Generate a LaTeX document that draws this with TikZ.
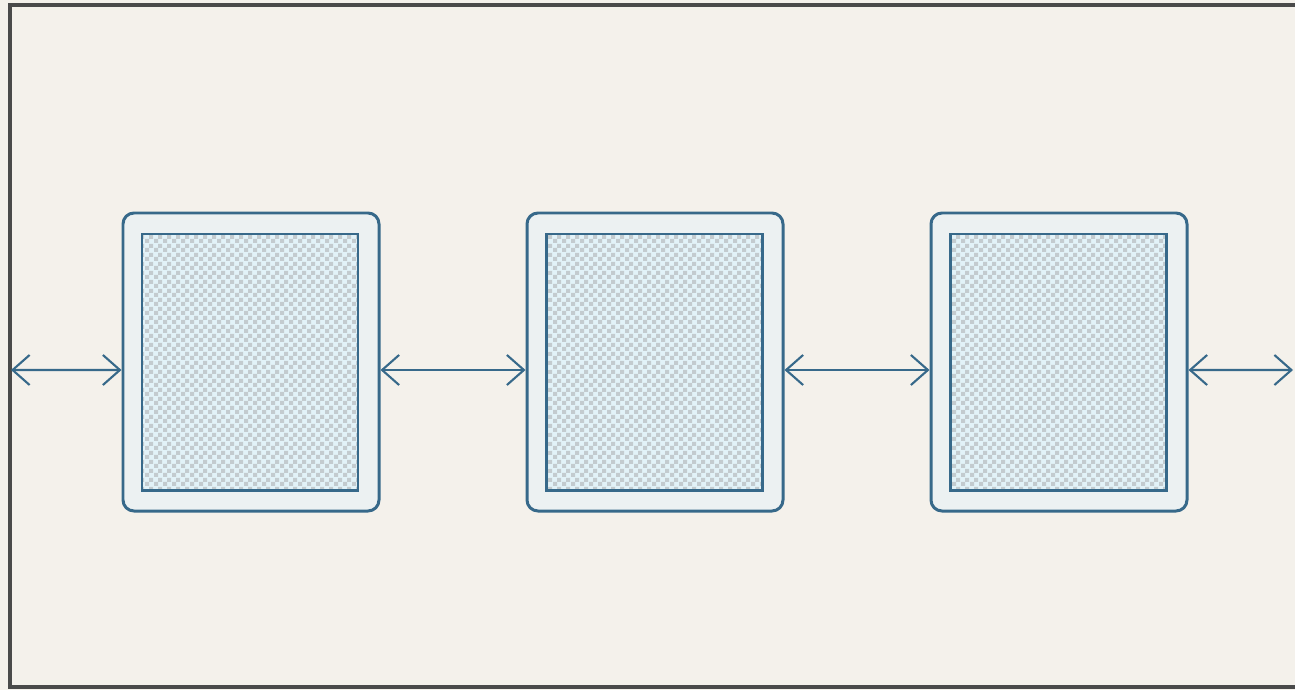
\documentclass[tikz,border=0pt]{standalone}
\usetikzlibrary{arrows.meta,patterns.meta}

\definecolor{paper}{HTML}{F4F1EB}
\definecolor{framegray}{HTML}{4A4A4A}
\definecolor{cellblue}{HTML}{37698A}
\definecolor{cellrim}{HTML}{ECF1F2}
\definecolor{cellcore}{HTML}{E2F2F8}
\definecolor{cellgrid}{HTML}{C3CBCF}

\tikzdeclarepattern{
    name=checker, type=uncolored,
    bounding box={(0,0) and (0.17,0.17)},
    tile size={(0.17,0.17)},
    code={
        \fill (0,0) rectangle (0.085,0.085);
        \fill (0.085,0.085) rectangle (0.17,0.17);
    }
}

\begin{document}
\begin{tikzpicture}[
    rim/.style={
        rectangle, rounded corners=0.22cm, draw=cellblue, fill=cellrim,
        line width=1.7pt, minimum width=5.12cm, minimum height=5.96cm,
        inner sep=0pt
    },
    core/.style={
        rectangle, draw=cellblue, line width=1.7pt,
        preaction={fill=cellcore}, pattern=checker, pattern color=cellgrid,
        minimum width=4.32cm, minimum height=5.12cm, inner sep=0pt
    },
    link/.style={{Straight Barb[length=0.34cm,width=0.6cm]}-{Straight Barb[length=0.34cm,width=0.6cm]},
        line width=1.2pt, cellblue}
]

% --- Page and frame ---
\fill[paper] (0,0) rectangle (25.9,-13.8);
\useasboundingbox (0,0) rectangle (25.9,-13.8);
\draw[framegray, line width=1.8pt] (0.2,-0.1) rectangle (26.3,-13.74);

% --- Cells ---
\node[rim]  (cell1) at (5.02,-7.24) {};
\node[core] (core1) at (5.0,-7.24)  {};

\node[rim]  (cell2) at (13.10,-7.24) {};
\node[core] (core2) at (13.08,-7.24) {};

\node[rim]  (cell3) at (21.18,-7.24) {};
\node[core] (core3) at (21.16,-7.24) {};

% --- Open ends ---
\coordinate (leftend)  at (0.22,-7.4);
\coordinate (rightend) at (25.86,-7.4);

% --- Links ---
\draw[link] (leftend) -- ([yshift=-0.16cm]cell1.west);
\draw[link] ([yshift=-0.16cm]cell1.east) -- ([yshift=-0.16cm]cell2.west);
\draw[link] ([yshift=-0.16cm]cell2.east) -- ([yshift=-0.16cm]cell3.west);
\draw[link] ([yshift=-0.16cm]cell3.east) -- (rightend);

\end{tikzpicture}
\end{document}
